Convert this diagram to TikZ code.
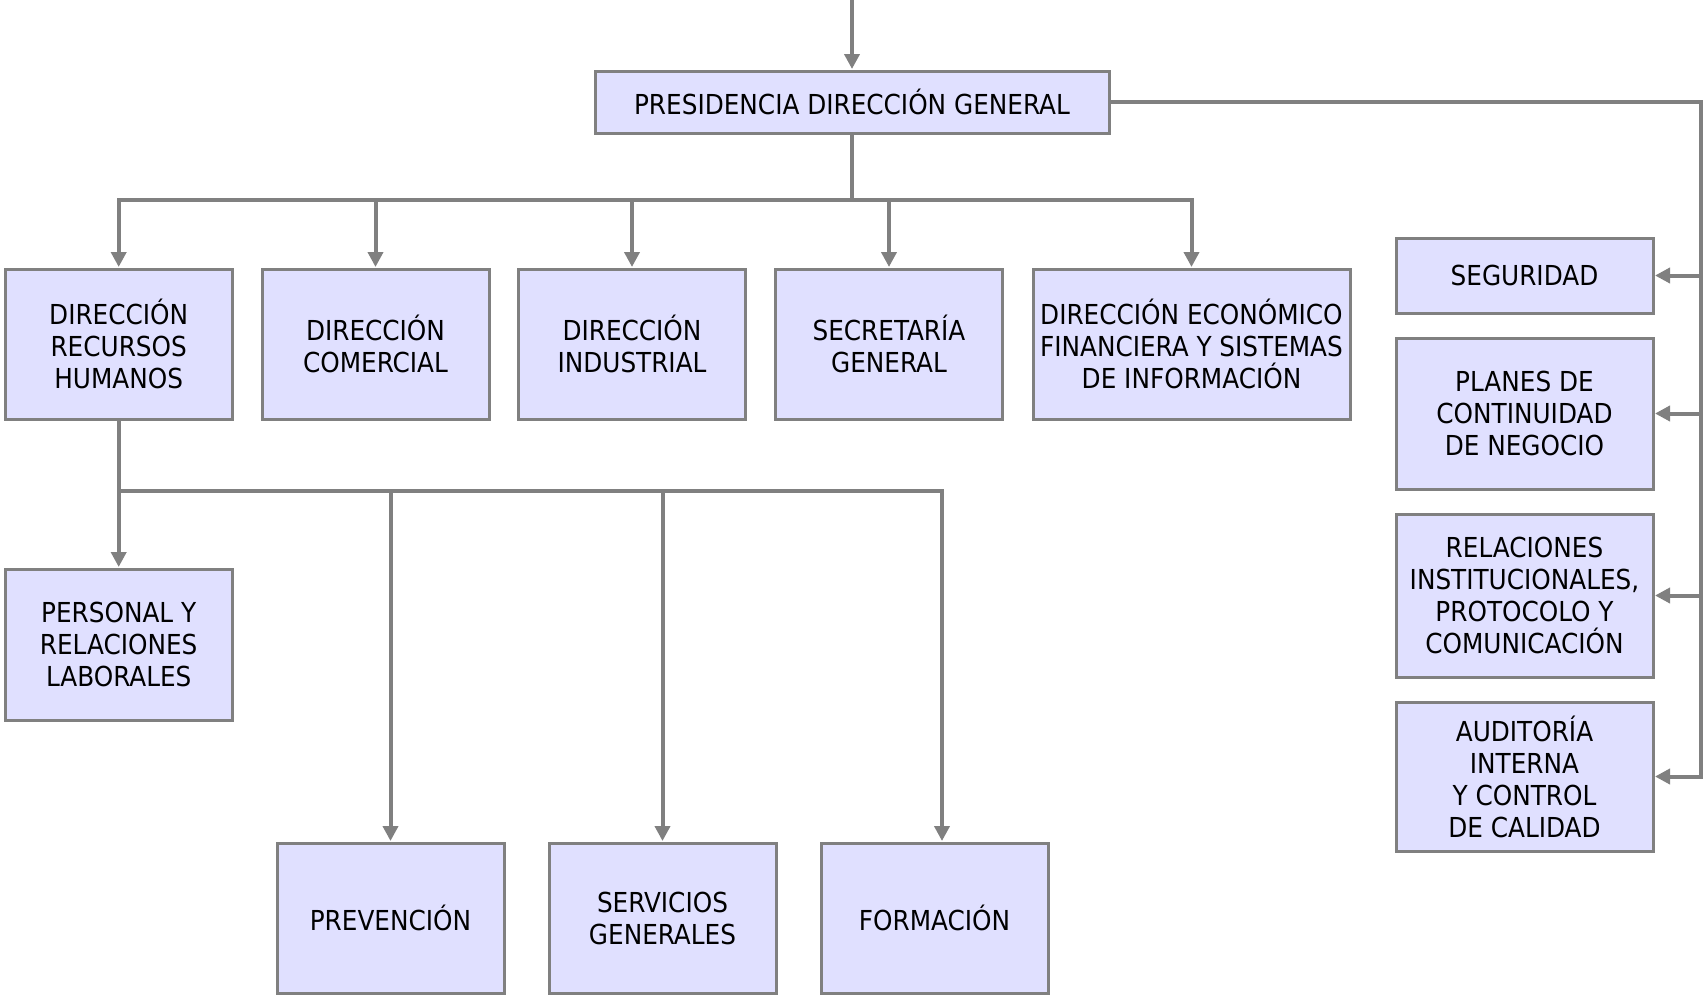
\documentclass[tikz,border=0pt]{standalone}
\usepackage{fontspec}
\setmainfont{DejaVu Sans Condensed}
\usetikzlibrary{arrows.meta}
\definecolor{boxfill}{RGB}{224,224,255}
\definecolor{linegray}{RGB}{128,128,128}
\tikzset{
  orgbox/.style={draw=linegray, fill=boxfill, line width=3pt, rectangle, align=center,
    inner sep=2pt, font=\fontsize{27.5}{32}\selectfont, text=black},
  conn/.style={draw=linegray, line width=4pt},
  arr/.style={conn, -{Triangle[length=15pt,width=15pt]}, shorten >=0.5pt},
}
\begin{document}
\begin{tikzpicture}[x=1pt,y=-1pt]
\useasboundingbox (0,0) rectangle (1706,996);
% top
\node[orgbox, minimum width=514pt, minimum height=62pt] (pres) at (852,102) {PRESIDENCIA DIRECCIÓN GENERAL};
% row 2
\node[orgbox, minimum width=227pt, minimum height=150pt] (rrhh) at (118.7,344) {DIRECCIÓN\\RECURSOS\\HUMANOS};
\node[orgbox, minimum width=227pt, minimum height=150pt] (com) at (375.5,344) {DIRECCIÓN\\COMERCIAL};
\node[orgbox, minimum width=227pt, minimum height=150pt] (ind) at (632,344) {DIRECCIÓN\\INDUSTRIAL};
\node[orgbox, minimum width=227pt, minimum height=150pt] (sec) at (889,344) {SECRETARÍA\\GENERAL};
\node[orgbox, minimum width=317pt, minimum height=150pt] (eco) at (1191.5,344) {DIRECCIÓN ECONÓMICO\\FINANCIERA Y SISTEMAS\\DE INFORMACIÓN};
% personal
\node[orgbox, minimum width=227pt, minimum height=151pt] (pers) at (118.7,644.5) {PERSONAL Y\\RELACIONES\\LABORALES};
% bottom row
\node[orgbox, minimum width=227pt, minimum height=150pt] (prev) at (390.5,918) {PREVENCIÓN};
\node[orgbox, minimum width=227pt, minimum height=150pt] (serv) at (662.5,918) {SERVICIOS\\GENERALES};
\node[orgbox, minimum width=227pt, minimum height=150pt] (form) at (934.5,918) {FORMACIÓN};
% right column
\node[orgbox, minimum width=257pt, minimum height=75pt] (seg) at (1524.5,275.5) {SEGURIDAD};
\node[orgbox, minimum width=257pt, minimum height=151pt] (plan) at (1524.5,413.5) {PLANES DE\\CONTINUIDAD\\DE NEGOCIO};
\node[orgbox, minimum width=257pt, minimum height=163pt] (rel) at (1524.5,595.5) {RELACIONES\\INSTITUCIONALES,\\PROTOCOLO Y\\COMUNICACIÓN};
\node[orgbox, minimum width=257pt, minimum height=149pt] (aud) at (1524.5,776.5) {AUDITORÍA\\INTERNA\\Y CONTROL\\DE CALIDAD};
% coordinates
\coordinate (topin) at (852,0);
\coordinate (bus1) at (852,200);
\coordinate (bus2) at (118.7,491);
\coordinate (rx) at (1700.6,0);
% connectors
\draw[arr] (topin) -- (pres.north);
\draw[arr] (pres.south) -- (bus1) -| (rrhh.north);
\draw[arr] (bus1) -| (com.north);
\draw[arr] (bus1) -| (ind.north);
\draw[arr] (bus1) -| (sec.north);
\draw[arr] (bus1) -| (eco.north);
\draw[arr] (rrhh.south) -- (pers.north);
\draw[arr] (bus2) -| (prev.north);
\draw[arr] (bus2) -| (serv.north);
\draw[arr] (bus2) -| ([xshift=7.5pt]form.north);
\draw[arr] (pres.east) -| (aud.east -| rx) -- (aud.east);
\draw[arr] (seg.east -| rx) -- (seg.east);
\draw[arr] (plan.east -| rx) -- (plan.east);
\draw[arr] (rel.east -| rx) -- (rel.east);
\end{tikzpicture}
\end{document}
